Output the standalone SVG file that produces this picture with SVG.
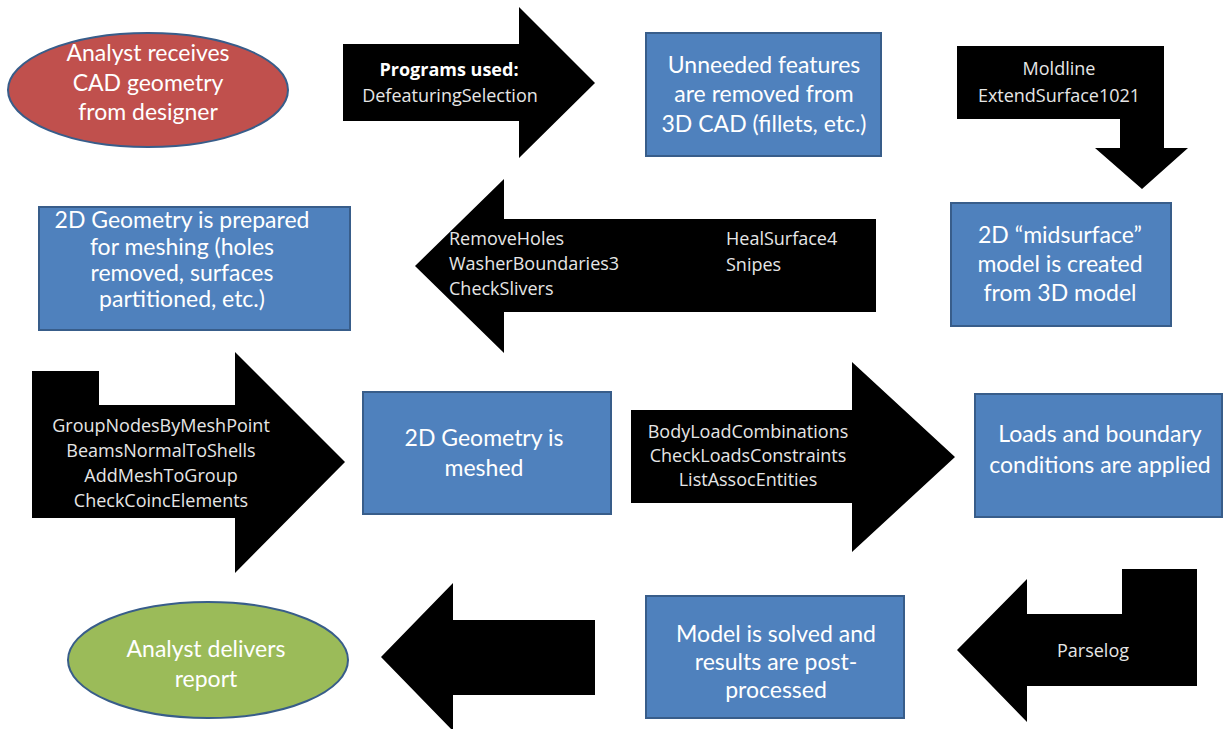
<svg xmlns="http://www.w3.org/2000/svg" width="1230" height="729" viewBox="0 0 1230 729">
<style>
.bg{fill:#ffffff}
.box{fill:#4F81BD;stroke:#385D8A;stroke-width:2}
.red{fill:#C0504D;stroke:#385D8A;stroke-width:2}
.green{fill:#9BBB59;stroke:#385D8A;stroke-width:2}
.arrow{fill:#000000}
.t{font-family:Lato,"Liberation Sans",sans-serif;font-size:23px;fill:#ffffff;text-anchor:middle}
.a{font-family:"Open Sans","Liberation Sans",sans-serif;font-size:18px;fill:#e6e6e6;text-anchor:middle}
.al{text-anchor:start}
.b{font-weight:bold;fill:#ffffff}
</style>
<rect class="bg" x="0" y="0" width="1230" height="729"/>
<g id="connectors">
  <g id="arrow1">
    <path class="arrow" d="M343,44 H519 V7 L595,83 L519,158 V121 H343 Z"/>
    <text class="a b" x="449" y="76">Programs used:</text>
    <text class="a" x="450" y="102">DefeaturingSelection</text>
  </g>
  <g id="arrow2">
    <path class="arrow" d="M957,46 H1164 V148 H1188 L1142,189 L1095,148 H1120 V119 H957 Z"/>
    <text class="a" x="1059" y="75">Moldline</text>
    <text class="a" x="1059" y="102">ExtendSurface1021</text>
  </g>
  <g id="arrow3">
    <path class="arrow" d="M876,219 H504 V179 L415,266 L504,353 V312 H876 Z"/>
    <text class="a al" x="449" y="245">RemoveHoles</text>
    <text class="a al" x="449" y="270">WasherBoundaries3</text>
    <text class="a al" x="449" y="295">CheckSlivers</text>
    <text class="a al" x="726" y="245">HealSurface4</text>
    <text class="a al" x="726" y="271">Snipes</text>
  </g>
  <g id="arrow4">
    <path class="arrow" d="M32,371 H99 V405 H235 V352 L345,462 L235,573 V518 H32 Z"/>
    <text class="a" x="161" y="432">GroupNodesByMeshPoint</text>
    <text class="a" x="161" y="457">BeamsNormalToShells</text>
    <text class="a" x="161" y="482">AddMeshToGroup</text>
    <text class="a" x="161" y="507">CheckCoincElements</text>
  </g>
  <g id="arrow5">
    <path class="arrow" d="M631,410 H852 V362 L955,457 L852,552 V503 H631 Z"/>
    <text class="a" x="748" y="438">BodyLoadCombinations</text>
    <text class="a" x="748" y="462">CheckLoadsConstraints</text>
    <text class="a" x="748" y="486">ListAssocEntities</text>
  </g>
  <g id="arrow6">
    <path class="arrow" d="M1197,569 V686 H1027 V722 L957,650 L1027,579 V614 H1122 V569 Z"/>
    <text class="a" x="1093" y="657">Parselog</text>
  </g>
  <g id="arrow7">
    <path class="arrow" d="M595,620 V695 H453 V731 L381,657 L453,583 V620 Z"/>
  </g>
</g>
<g id="start">
  <ellipse class="red" cx="148" cy="90" rx="140" ry="57"/>
  <text class="t" x="148" y="61">Analyst receives</text>
  <text class="t" x="148" y="91">CAD geometry</text>
  <text class="t" x="148" y="120">from designer</text>
</g>
<g id="defeature">
  <rect class="box" x="646" y="33" width="235" height="123"/>
  <text class="t" x="764" y="73">Unneeded features</text>
  <text class="t" x="764" y="102">are removed from</text>
  <text class="t" x="764" y="132">3D CAD (fillets, etc.)</text>
</g>
<g id="midsurface">
  <rect class="box" x="951" y="203" width="220" height="123"/>
  <text class="t" x="1060" y="243">2D “midsurface”</text>
  <text class="t" x="1060" y="272">model is created</text>
  <text class="t" x="1060" y="301">from 3D model</text>
</g>
<g id="prepare">
  <rect class="box" x="39" y="207" width="311" height="123"/>
  <text class="t" x="182" y="228">2D Geometry is prepared</text>
  <text class="t" x="182" y="255">for meshing (holes</text>
  <text class="t" x="182" y="281">removed, surfaces</text>
  <text class="t" x="182" y="307">partitioned, etc.)</text>
</g>
<g id="meshed">
  <rect class="box" x="363" y="392" width="248" height="122"/>
  <text class="t" x="484" y="446">2D Geometry is</text>
  <text class="t" x="484" y="476">meshed</text>
</g>
<g id="loads">
  <rect class="box" x="975" y="394" width="247" height="123"/>
  <text class="t" x="1100" y="442">Loads and boundary</text>
  <text class="t" x="1100" y="473">conditions are applied</text>
</g>
<g id="solved">
  <rect class="box" x="646" y="596" width="258" height="122"/>
  <text class="t" x="776" y="642">Model is solved and</text>
  <text class="t" x="776" y="670">results are post-</text>
  <text class="t" x="776" y="698">processed</text>
</g>
<g id="end">
  <ellipse class="green" cx="208" cy="660" rx="140" ry="58"/>
  <text class="t" x="206" y="657">Analyst delivers</text>
  <text class="t" x="206" y="687">report</text>
</g>
</svg>
